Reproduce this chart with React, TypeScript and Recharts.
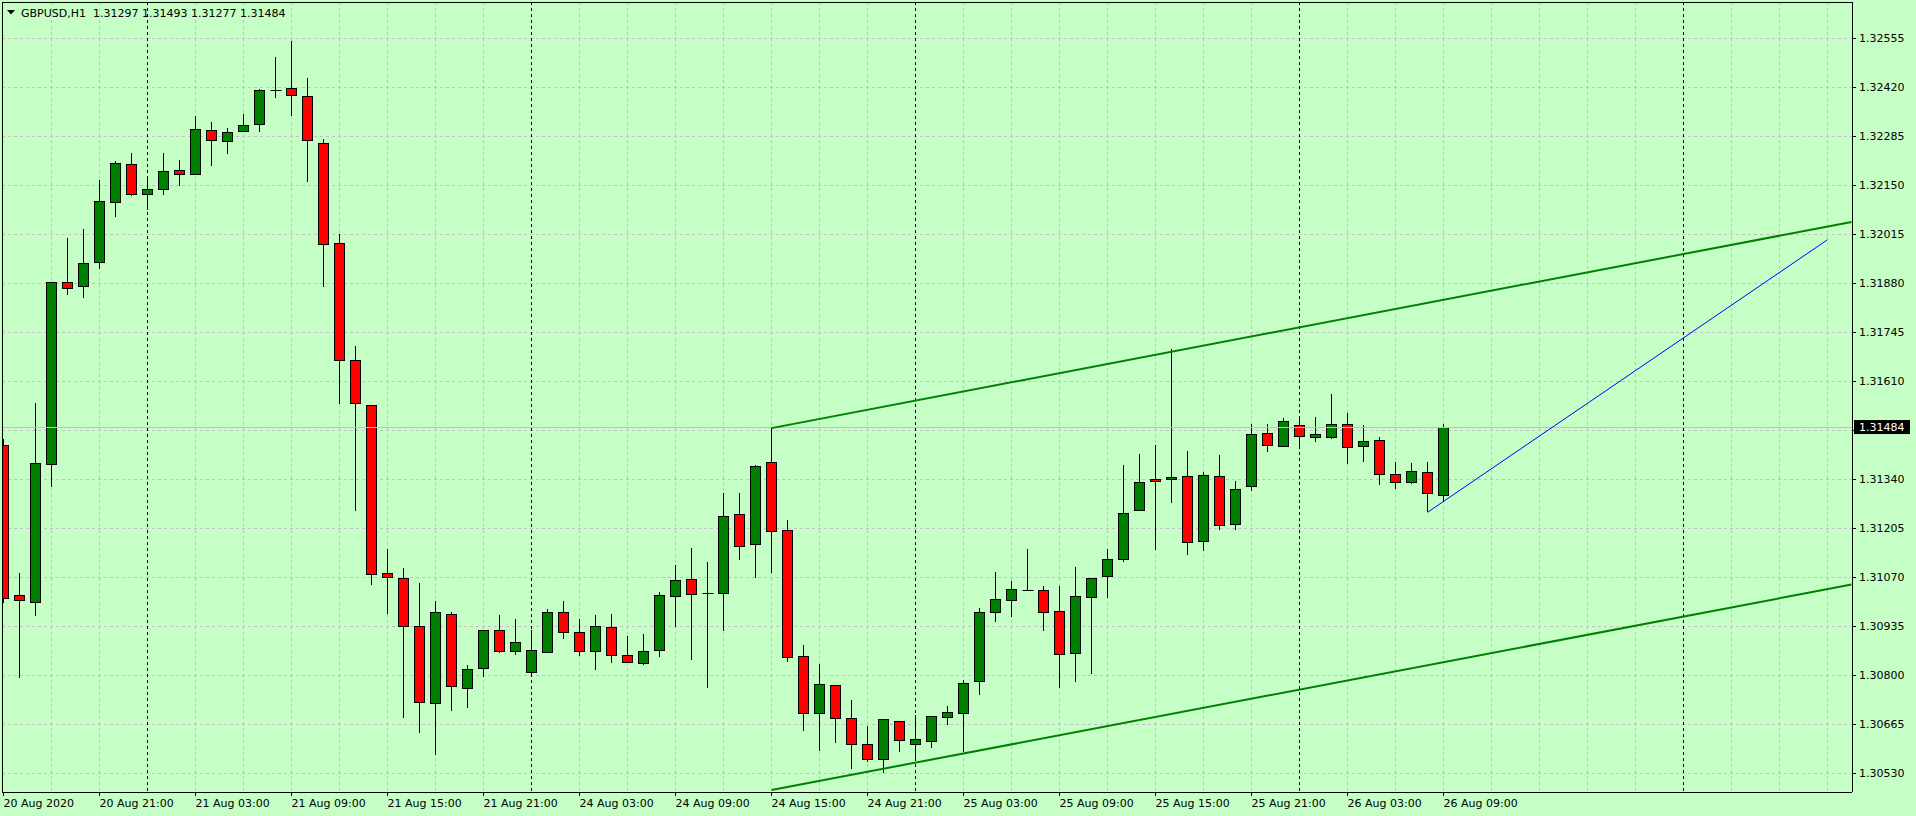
import React from 'react'
import { ComposedChart, Bar, XAxis, YAxis, CartesianGrid, ReferenceLine } from 'recharts'

// GBPUSD H1, bars from 20 Aug 2020 15:00 (index 0) to 26 Aug 2020 09:00 (index 90)
const opens = [
  1.31435, 1.31020, 1.31003, 1.31381, 1.31883, 1.31873, 1.31938, 1.32103, 1.32208, 1.32125,
  1.32139, 1.32191, 1.32180, 1.32302, 1.32271, 1.32299, 1.32318, 1.32412, 1.32417, 1.32395,
  1.32266, 1.31990, 1.31668, 1.31544, 1.31081, 1.31067, 1.30935, 1.30723, 1.30968, 1.30764,
  1.30819, 1.30924, 1.30866, 1.30808, 1.30863, 1.30974, 1.30919, 1.30866, 1.30932, 1.30855,
  1.30833, 1.30869, 1.31018, 1.31065, 1.31026, 1.31026, 1.31244, 1.31161, 1.31387, 1.31200,
  1.30852, 1.30695, 1.30772, 1.30682, 1.30610, 1.30569, 1.30673, 1.30610, 1.30618, 1.30684,
  1.30695, 1.30783, 1.30974, 1.31007, 1.31035, 1.31034, 1.30976, 1.30861, 1.31015, 1.31073,
  1.31120, 1.31255, 1.31340, 1.31340, 1.31348, 1.31169, 1.31348, 1.31216, 1.31321, 1.31467,
  1.31431, 1.31489, 1.31456, 1.31456, 1.31492, 1.31431, 1.31447, 1.31354, 1.31332, 1.31359,
  1.31297,
]
const highs = [
  1.31450, 1.31081, 1.31549, 1.31884, 1.32004, 1.32030, 1.32165, 1.32217, 1.32238, 1.32176,
  1.32238, 1.32220, 1.32340, 1.32324, 1.32308, 1.32346, 1.32415, 1.32503, 1.32548, 1.32446,
  1.32278, 1.32016, 1.31707, 1.31544, 1.31148, 1.31096, 1.31054, 1.31005, 1.30974, 1.30828,
  1.30924, 1.30966, 1.30955, 1.30924, 1.30983, 1.31005, 1.30955, 1.30966, 1.30969, 1.30908,
  1.30914, 1.31029, 1.31103, 1.31150, 1.31111, 1.31301, 1.31301, 1.31379, 1.31481, 1.31228,
  1.30884, 1.30831, 1.30772, 1.30732, 1.30660, 1.30679, 1.30673, 1.30690, 1.30687, 1.30715,
  1.30787, 1.30985, 1.31084, 1.31060, 1.31148, 1.31046, 1.31046, 1.31098, 1.31067, 1.31148,
  1.31379, 1.31410, 1.31435, 1.31698, 1.31418, 1.31359, 1.31407, 1.31335, 1.31492, 1.31492,
  1.31509, 1.31514, 1.31511, 1.31574, 1.31522, 1.31489, 1.31456, 1.31387, 1.31384, 1.31387,
  1.31493,
]
const lows = [
  1.30998, 1.30792, 1.30964, 1.31320, 1.31848, 1.31840, 1.31920, 1.32064, 1.32121, 1.32082,
  1.32124, 1.32149, 1.32180, 1.32204, 1.32237, 1.32299, 1.32298, 1.32391, 1.32342, 1.32160,
  1.31871, 1.31547, 1.31254, 1.31049, 1.30970, 1.30683, 1.30642, 1.30581, 1.30703, 1.30711,
  1.30796, 1.30862, 1.30857, 1.30796, 1.30863, 1.30901, 1.30854, 1.30815, 1.30835, 1.30833,
  1.30828, 1.30851, 1.30932, 1.30843, 1.30766, 1.30923, 1.31119, 1.31069, 1.31082, 1.30838,
  1.30647, 1.30592, 1.30614, 1.30543, 1.30562, 1.30530, 1.30590, 1.30565, 1.30601, 1.30664,
  1.30589, 1.30747, 1.30948, 1.30961, 1.31034, 1.30923, 1.30766, 1.30782, 1.30804, 1.31014,
  1.31111, 1.31255, 1.31144, 1.31274, 1.31132, 1.31143, 1.31201, 1.31201, 1.31309, 1.31416,
  1.31431, 1.31424, 1.31444, 1.31450, 1.31383, 1.31389, 1.31324, 1.31312, 1.31326, 1.31249,
  1.31277,
]
const closes = [
  1.31012, 1.31007, 1.31384, 1.31883, 1.31866, 1.31935, 1.32106, 1.32211, 1.32125, 1.32139,
  1.32189, 1.32180, 1.32304, 1.32274, 1.32296, 1.32315, 1.32412, 1.32412, 1.32398, 1.32274,
  1.31987, 1.31668, 1.31549, 1.31078, 1.31070, 1.30935, 1.30726, 1.30974, 1.30770, 1.30817,
  1.30924, 1.30866, 1.30891, 1.30869, 1.30974, 1.30919, 1.30866, 1.30935, 1.30855, 1.30836,
  1.30866, 1.31020, 1.31062, 1.31023, 1.31026, 1.31238, 1.31155, 1.31376, 1.31197, 1.30850,
  1.30695, 1.30775, 1.30682, 1.30610, 1.30569, 1.30679, 1.30621, 1.30624, 1.30687, 1.30698,
  1.30778, 1.30974, 1.31009, 1.31037, 1.31035, 1.30974, 1.30858, 1.31018, 1.31067, 1.31120,
  1.31246, 1.31332, 1.31335, 1.31346, 1.31166, 1.31351, 1.31213, 1.31312, 1.31464, 1.31434,
  1.31500, 1.31458, 1.31464, 1.31492, 1.31428, 1.31445, 1.31354, 1.31332, 1.31362, 1.31301,
  1.31484,
]

// one label every 6 bars
const timeLabels = [
  '20 Aug 2020', '20 Aug 21:00', '21 Aug 03:00', '21 Aug 09:00', '21 Aug 15:00', '21 Aug 21:00',
  '24 Aug 03:00', '24 Aug 09:00', '24 Aug 15:00', '24 Aug 21:00', '25 Aug 03:00', '25 Aug 09:00',
  '25 Aug 15:00', '25 Aug 21:00', '26 Aug 03:00', '26 Aug 09:00',
]
const labelEvery = 6

const priceTicks = [
  1.30530, 1.30665, 1.30800, 1.30935, 1.31070, 1.31205, 1.31340, 1.31475,
  1.31610, 1.31745, 1.31880, 1.32015, 1.32150, 1.32285, 1.32420, 1.32555,
]

// period separators (00:00 bars)
const daySeparators = [9, 33, 57, 81, 105]

// drawn objects: bar index + price
const channelTop = [{ k: 48, price: 1.31481 }, { k: 115.5, price: 1.32049 }]
const channelBottom = [{ k: 48, price: 1.30484 }, { k: 115.5, price: 1.31050 }]
const blueTrend = [{ k: 89, price: 1.31249 }, { k: 114, price: 1.32000 }]
const lastPrice = 1.31484

const BG = '#C6FFC6'
const BULL = '#008000'
const BEAR = '#FF0000'
const GRID = '#C0C0C0'
const FONT = '"DejaVu Sans", Verdana, sans-serif'

const X_DOMAIN: [number, number] = [-0.09375, 115.53125]
const Y_DOMAIN: [number, number] = [1.304785, 1.32655]

const candles = opens.map((open, k) => ({ k, open, high: highs[k], low: lows[k], close: closes[k] }))
const labelTicks = timeLabels.map((_, i) => i * labelEvery)
// vertical grid every 3 bars
const gridBars: number[] = []
for (let k = 3; k <= 115; k += 3) gridBars.push(k)

// maps bar indexes to pixel x with the grid's x axis scale
const barColumns = (bars: number[]) => (props: any) => {
  const scale = props?.xAxis?.scale
  if (typeof scale === 'function') return bars.map(k => scale(k))
  const off = props.offset
  return bars.map(k => off.left + ((k - X_DOMAIN[0]) / (X_DOMAIN[1] - X_DOMAIN[0])) * off.width)
}

const Candle = (props: any) => {
  const { x, y, width, height, payload } = props
  if (x == null || payload == null) return null
  const cx = Math.floor(x + width / 2) + 0.5
  const top = Math.min(y, y + height)
  const span = Math.abs(height)
  const { open, high, low, close } = payload
  const toY = (v: number) => top + ((high - v) / (high - low)) * span
  const yo = toY(open)
  const yc = toY(close)
  const bTop = Math.round(Math.min(yo, yc)) + 0.5
  const bBot = Math.round(Math.max(yo, yc)) + 0.5
  const half = 5
  return (
    <g>
      <line x1={cx} x2={cx} y1={Math.round(top)} y2={Math.round(top + span)} stroke="#000" strokeWidth={1} />
      {bBot - bTop < 1 ? (
        <line x1={cx - half} x2={cx + half + 1} y1={bTop} y2={bTop} stroke="#000" strokeWidth={1} />
      ) : (
        <rect x={cx - half} y={bTop} width={half * 2} height={bBot - bTop}
          fill={close > open ? BULL : BEAR} stroke="#000" strokeWidth={1} />
      )}
    </g>
  )
}

const TimeTick = (props: any) => {
  const { x, y, payload } = props
  const label = timeLabels[Math.round(payload.value / labelEvery)]
  return (
    <text x={x} y={y} dy="0.71em" textAnchor="start" fill="#000" fontSize={11} fontFamily={FONT}>
      {label}
    </text>
  )
}

const PriceTag = (props: any) => {
  const vb = props.viewBox
  if (!vb) return null
  const left = vb.x + vb.width + 2
  return (
    <g>
      <rect x={left} y={vb.y - 7} width={56} height={14} fill="#000" />
      <text x={left + 5} y={vb.y} dy="0.36em" fill="#fff" fontSize={11} fontFamily={FONT}>
        {lastPrice.toFixed(5)}
      </text>
    </g>
  )
}

// the tick under the last price tag is covered in the terminal
const priceLabel = (v: number) => (Math.abs(v - lastPrice) < 0.0001 ? '' : v.toFixed(5))

export default function App() {
  const last = candles[candles.length - 1]
  return (
    <div style={{ position: 'absolute', left: 0, top: 0, width: 1916, height: 816, background: BG, overflow: 'hidden' }}>
      <ComposedChart width={1916} height={816} data={candles}
        margin={{ top: 2, right: 0, bottom: 0, left: 2 }} style={{ fontFamily: FONT }}>
        <CartesianGrid stroke={GRID} strokeDasharray="3 3" shapeRendering="crispEdges"
          verticalCoordinatesGenerator={barColumns(gridBars)} />
        <CartesianGrid horizontal={false} stroke="#000" strokeDasharray="3 3" shapeRendering="crispEdges"
          verticalCoordinatesGenerator={barColumns(daySeparators)} />
        <XAxis dataKey="k" type="number" domain={X_DOMAIN} allowDataOverflow ticks={labelTicks} interval={0}
          height={24} tickSize={4} tickMargin={3} tick={<TimeTick />}
          axisLine={{ stroke: '#000', shapeRendering: 'crispEdges' }} tickLine={{ stroke: '#000' }} />
        <YAxis orientation="right" type="number" domain={Y_DOMAIN} allowDataOverflow ticks={priceTicks} interval={0}
          width={64} tickSize={4} tickMargin={3} tickFormatter={priceLabel}
          tick={{ fill: '#000', fontSize: 11, fontFamily: FONT }}
          axisLine={{ stroke: '#000', shapeRendering: 'crispEdges' }} tickLine={{ stroke: '#000', shapeRendering: 'crispEdges' }} />
        <ReferenceLine y={lastPrice} stroke={GRID} shapeRendering="crispEdges" label={<PriceTag />} />
        <Bar dataKey={(d: any) => [d.low, d.high]} shape={<Candle />} barSize={10} isAnimationActive={false} />
        <ReferenceLine segment={channelTop.map(p => ({ x: p.k, y: p.price }))} stroke={BULL} strokeWidth={2} />
        <ReferenceLine segment={channelBottom.map(p => ({ x: p.k, y: p.price }))} stroke={BULL} strokeWidth={2} />
        <ReferenceLine segment={blueTrend.map(p => ({ x: p.k, y: p.price }))} stroke="#0000FF" strokeWidth={1} />
      </ComposedChart>
      <svg width={1916} height={816} style={{ position: 'absolute', left: 0, top: 0, pointerEvents: 'none' }}>
        <line x1={2.5} x2={2.5} y1={2} y2={792} stroke="#000" />
        <line x1={2} x2={1852} y1={2.5} y2={2.5} stroke="#000" />
        <polygon points="7,10 15,10 11,14.5" fill="#000" />
        <text x={21} y={16.5} fontSize={11} fontFamily={FONT} fill="#000">GBPUSD,H1</text>
        <text x={93} y={16.5} fontSize={11} fontFamily={FONT} fill="#000">
          {[last.open, last.high, last.low, last.close].map(v => v.toFixed(5)).join(' ')}
        </text>
      </svg>
    </div>
  )
}
